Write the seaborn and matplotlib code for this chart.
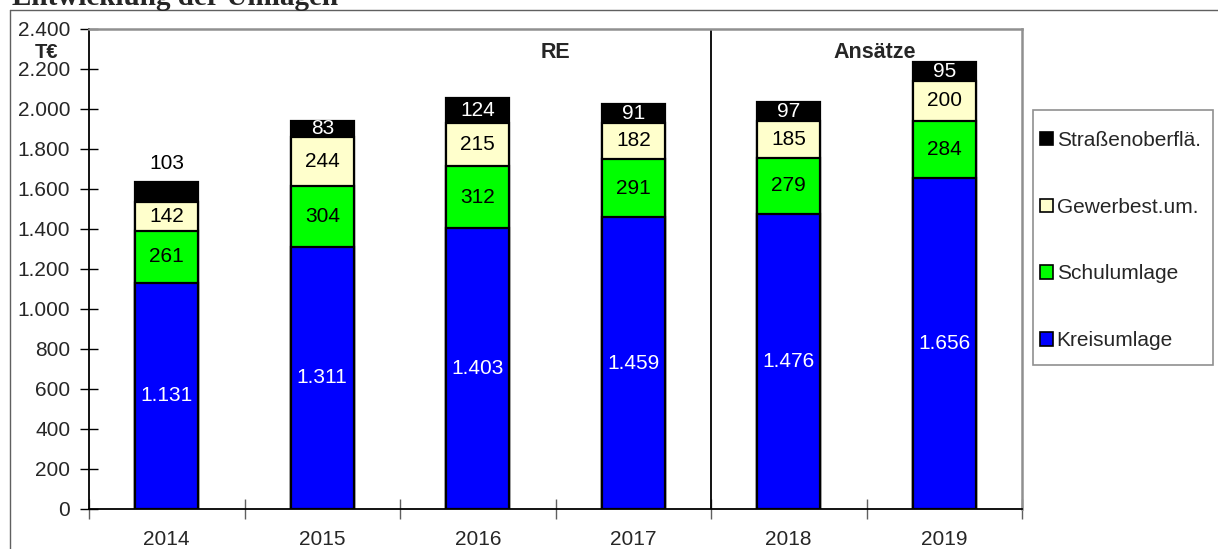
import matplotlib
matplotlib.use("Agg")
import matplotlib.pyplot as plt
from matplotlib.lines import Line2D
from matplotlib.patches import Patch, Rectangle
from matplotlib.ticker import FuncFormatter, FixedLocator
import numpy as np
import pandas as pd
import seaborn as sns

# Chart data (T€)
years = ["2014", "2015", "2016", "2017", "2018", "2019"]
kreisumlage = [1131, 1311, 1403, 1459, 1476, 1656]
schulumlage = [261, 304, 312, 291, 279, 284]
gewerbest = [142, 244, 215, 182, 185, 200]
strassen = [103, 83, 124, 91, 97, 95]

series_names = ["Kreisumlage", "Schulumlage", "Gewerbest.um.", "Straßenoberflä."]
series_colors = ["#0000ff", "#00ff00", "#ffffcc", "#000000"]
label_colors = ["white", "black", "black", "white"]

title = "Entwicklung der Umlagen"
unit_label = "T€"
group_labels = ["RE", "Ansätze"]


def de_thousands(v, pos=None):
    """Format with German thousands separator"""
    return f"{int(v):,}".replace(",", ".")


def main() -> None:
    sns.set_theme(style="white")
    plt.rcParams["font.family"] = ["Liberation Sans", "DejaVu Sans"]

    W, H = 1218, 549
    fig = plt.figure(figsize=(W / 100, H / 100), dpi=100)
    ax_l, ax_r, ax_t, ax_b = 89, 1022, 29, 509
    ax = fig.add_axes([ax_l / W, 1 - ax_b / H, (ax_r - ax_l) / W, (ax_b - ax_t) / H])

    # Stack cumulative sums, draw tallest first so segments overlap
    values = np.array([kreisumlage, schulumlage, gewerbest, strassen], dtype=float)
    cum = np.cumsum(values, axis=0)
    for i in range(len(series_names) - 1, -1, -1):
        df = pd.DataFrame({"year": years, "value": cum[i]})
        sns.barplot(
            data=df, x="year", y="value", ax=ax, color=series_colors[i],
            saturation=1, width=0.405, edgecolor="black", linewidth=1.6,
            errorbar=None,
        )

    # Value labels
    for i in range(len(series_names)):
        for j, year in enumerate(years):
            bottom = cum[i][j] - values[i][j]
            mid = bottom + values[i][j] / 2
            color = label_colors[i]
            if i == 3 and j == 0:
                mid = cum[i][j] + 90
                color = "black"
            ax.text(j, mid, de_thousands(values[i][j]), ha="center", va="center",
                    fontsize=15, color=color)

    ax.set_xlim(-0.5, len(years) - 0.5)
    ax.set_ylim(0, 2400)
    ax.set_xlabel("")
    ax.set_ylabel("")

    ax.yaxis.set_major_locator(FixedLocator(np.arange(0, 2401, 200)))
    ax.yaxis.set_major_formatter(FuncFormatter(de_thousands))
    ax.tick_params(axis="y", which="major", direction="inout", length=13, width=1,
                   color="black", labelsize=15, pad=7, left=True)
    ax.tick_params(axis="x", which="major", length=0, labelsize=15, pad=15)
    ax.xaxis.set_minor_locator(FixedLocator(np.arange(-0.5, len(years), 1.0)))
    ax.tick_params(axis="x", which="minor", direction="inout", length=14, width=1,
                   color="#606060", bottom=True)

    for side in ("left", "bottom"):
        ax.spines[side].set_color("black")
        ax.spines[side].set_linewidth(1.3)
    for side in ("top", "right"):
        ax.spines[side].set_color("#909090")
        ax.spines[side].set_linewidth(1.8)

    # Divider between actuals and plan
    ax.axvline(3.5, color="black", linewidth=1.3)
    ax.text(2.5, 2285, group_labels[0], ha="center", va="center",
            fontsize=15.5, fontweight="bold")
    ax.text(4.55, 2285, group_labels[1], ha="center", va="center",
            fontsize=15.5, fontweight="bold")
    ax.text(-0.045, 0.952, unit_label, transform=ax.transAxes, ha="center",
            va="center", fontsize=14.5, fontweight="bold")

    # Legend box drawn separately, entries placed inside it
    fig.add_artist(Rectangle((1033 / W, 1 - 365 / H), 180 / W, 255 / H,
                             transform=fig.transFigure, facecolor="white",
                             edgecolor="#909090", linewidth=1.2))
    handles = [Patch(facecolor=c, edgecolor="black", linewidth=1.2)
               for c in series_colors][::-1]
    fig.legend(
        handles, series_names[::-1], loc="center left",
        bbox_to_anchor=(1040 / W, 1 - 240.5 / H),
        fontsize=15, frameon=False,
        handlelength=0.6, handleheight=0.6, handletextpad=0.2,
        labelspacing=2.3, borderpad=0, borderaxespad=0,
    )

    # Outer frame and cut-off title
    fig.add_artist(Line2D([10 / W, 10 / W], [0, 1 - 9.5 / H], color="#606060",
                          linewidth=1.0, transform=fig.transFigure))
    fig.add_artist(Line2D([10 / W, 1], [1 - 9.5 / H, 1 - 9.5 / H], color="#606060",
                          linewidth=1.0, transform=fig.transFigure))
    fig.text(12 / W, 1 - 5 / H, title, ha="left", va="baseline", fontsize=21,
             fontweight="bold", family=["Liberation Serif", "DejaVu Serif"])

    fig.savefig("out.png", dpi=100)
    plt.close(fig)


if __name__ == "__main__":
    main()
